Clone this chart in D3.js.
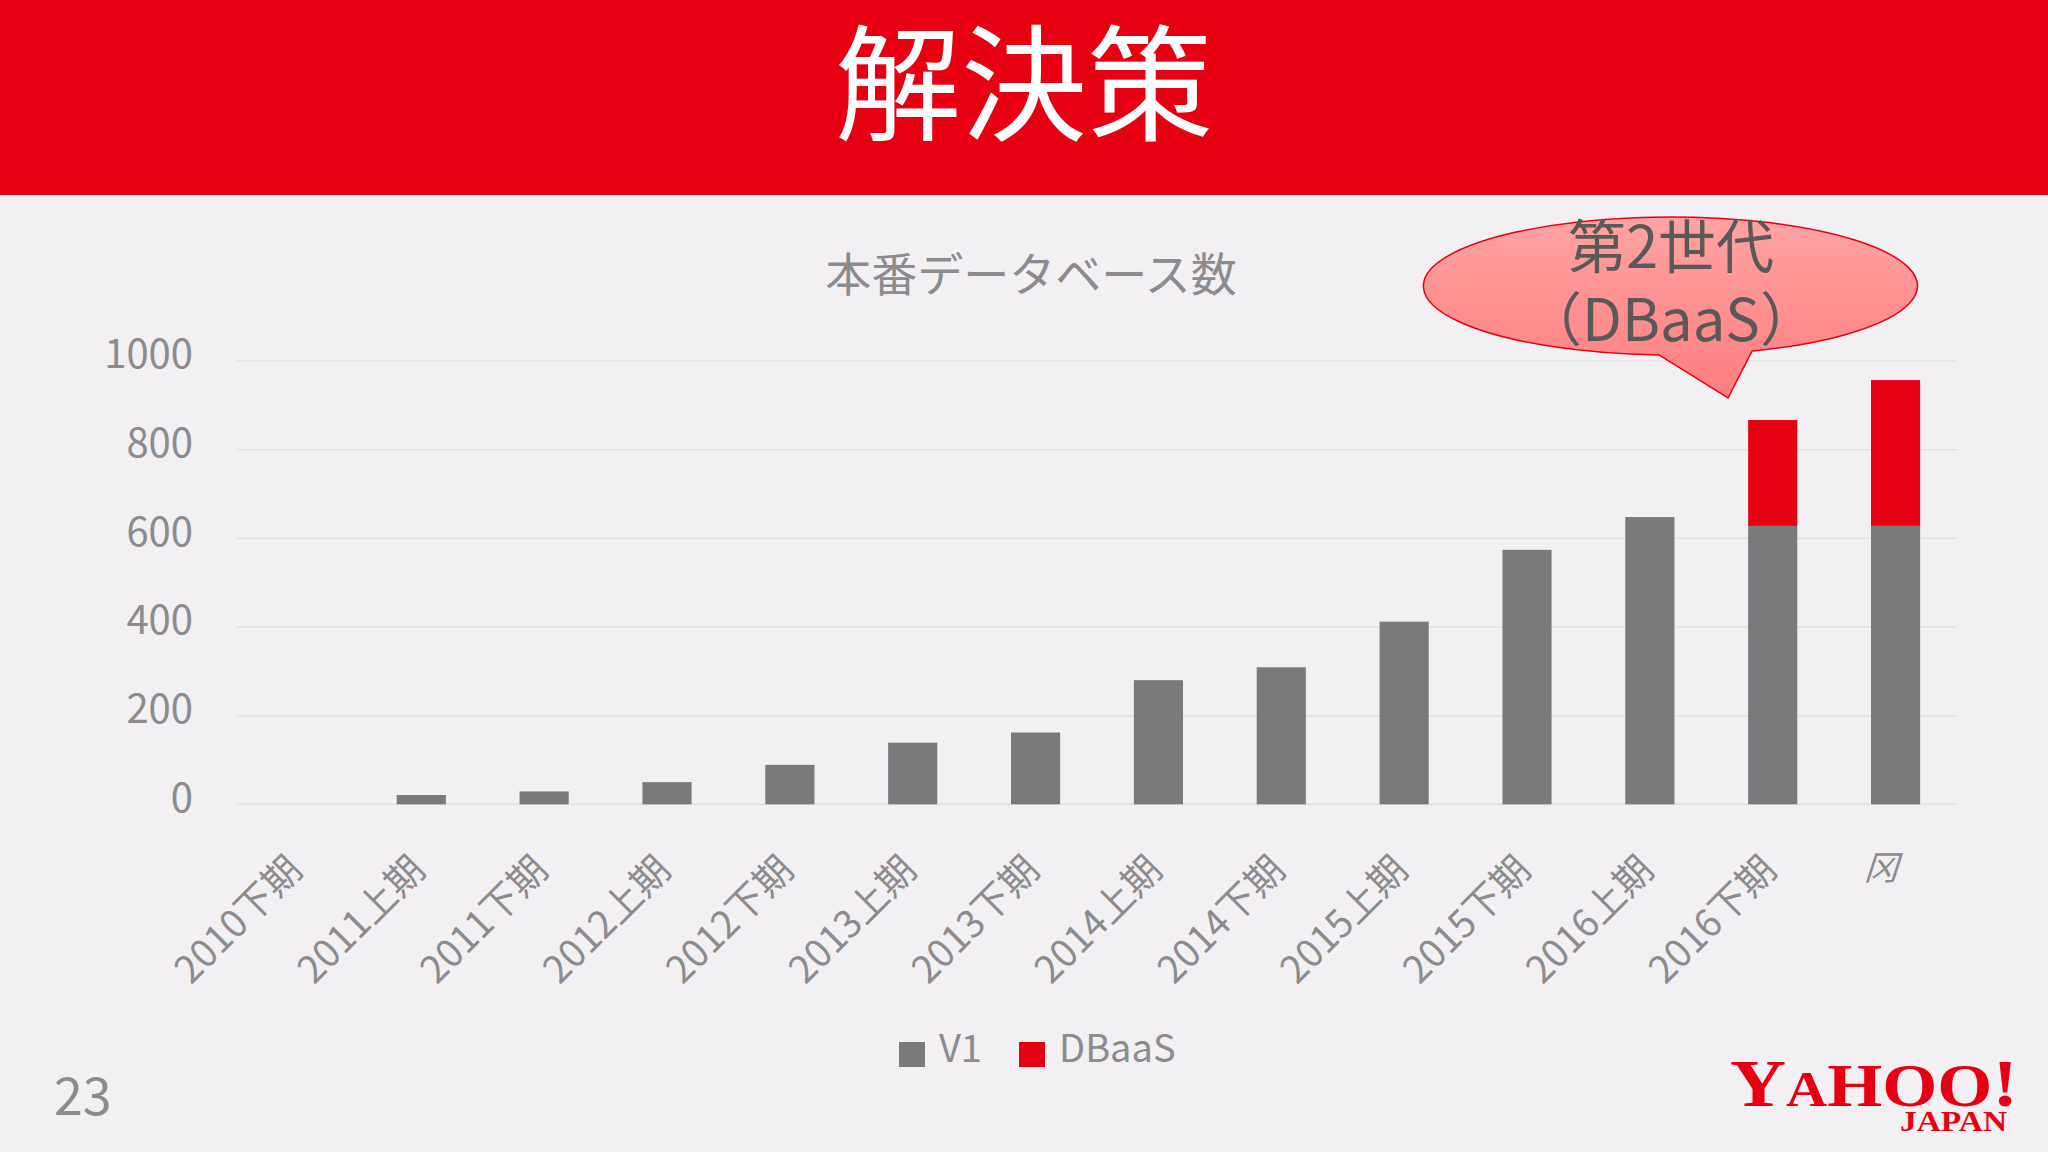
<!DOCTYPE html>
<html>
<head>
<meta charset="utf-8">
<script src="https://cdn.jsdelivr.net/npm/d3@7"></script>
<style>
  html, body { margin: 0; padding: 0; background: #F2F0F3; }
  svg { display: block; }
</style>
</head>
<body>
<script>
const categories = ['2010下期','2011上期','2011下期','2012上期','2012下期','2013上期','2013下期','2014上期','2014下期','2015上期','2015下期','2016上期','2016下期','冈'];
const v1Values = [0, 21, 29, 50, 89, 139, 162, 280, 309, 412, 574, 648, 628, 628];
const dbaasValues = [0, 0, 0, 0, 0, 0, 0, 0, 0, 0, 0, 0, 239, 329];
const seriesNames = ['V1', 'DBaaS'];
const yTicks = [0, 200, 400, 600, 800, 1000];

const W = 2048, H = 1152;
const FONT = '"Noto Sans CJK JP", "Noto Sans", sans-serif';
const GRAY = '#7B797C', RED = '#E60012', TEXT = '#8C8B8D';

const svg = d3.select('body').append('svg').attr('width', W).attr('height', H);
svg.append('rect').attr('width', W).attr('height', H).attr('fill', '#F2F0F3');

// header
svg.append('rect').attr('x', 0).attr('y', 0).attr('width', W).attr('height', 195).attr('fill', RED);
svg.append('text').attr('x', 1024).attr('y', 76).attr('text-anchor', 'middle')
  .attr('dominant-baseline', 'central').attr('font-family', FONT).attr('font-size', 126)
  .attr('fill', '#fff').text('解決策');

// chart title
svg.append('text').attr('x', 1031).attr('y', 271).attr('text-anchor', 'middle')
  .attr('dominant-baseline', 'central').attr('font-family', FONT).attr('font-size', 46)
  .attr('fill', TEXT).text('本番データベース数');

const x = d3.scaleBand().domain(categories).range([237, 1957]).paddingInner(0.6).paddingOuter(0.3);
const y = d3.scaleLinear().domain([0, 1000]).range([804.3, 361]);

// gridlines
svg.append('g').selectAll('line').data(yTicks).join('line')
  .attr('x1', 237).attr('x2', 1957)
  .attr('y1', d => y(d)).attr('y2', d => y(d))
  .attr('stroke', '#E2E0E3').attr('stroke-width', 1.5);

// y axis labels
const yAxis = d3.axisLeft(y).tickValues(yTicks).tickFormat(d3.format('d')).tickSize(0).tickPadding(0);
const gy = svg.append('g').attr('transform', 'translate(193,0)').call(yAxis);
gy.select('.domain').remove();
gy.selectAll('text').attr('font-family', FONT).attr('font-size', 40).attr('fill', TEXT)
  .attr('dy', '0.32em').attr('y', -6);

// stacked bars
const stackData = categories.map((c, i) => ({cat: c, V1: v1Values[i], DBaaS: dbaasValues[i]}));
const stacked = d3.stack().keys(seriesNames)(stackData);
const colors = {V1: GRAY, DBaaS: RED};
svg.append('g').selectAll('g').data(stacked).join('g')
  .attr('fill', d => colors[d.key])
  .selectAll('rect').data(d => d.filter(p => p[1] - p[0] > 0)).join('rect')
  .attr('x', d => x(d.data.cat))
  .attr('width', x.bandwidth())
  .attr('y', d => y(d[1]))
  .attr('height', d => y(d[0]) - y(d[1]));

// x axis labels
const xAxis = d3.axisBottom(x).tickSize(0).tickPadding(0);
const gx = svg.append('g').call(xAxis);
gx.select('.domain').remove();
gx.selectAll('.tick').attr('transform', d => `translate(${x(d) + x.bandwidth() / 2},0)`);
const last = categories.length - 1;
gx.selectAll('text')
  .attr('font-family', FONT).attr('fill', TEXT)
  .attr('dy', 0).attr('y', 0)
  .attr('transform', (d, i) => i === last ? 'translate(-15,880) skewX(-18)' : 'translate(6,872) rotate(-45)')
  .attr('font-size', (d, i) => i === last ? 34 : 38)
  .attr('text-anchor', (d, i) => i === last ? 'middle' : 'end');

// callout
const defs = svg.append('defs');
const grad = defs.append('linearGradient').attr('id', 'cg').attr('x1', 0).attr('y1', 0).attr('x2', 0).attr('y2', 1);
grad.append('stop').attr('offset', '0%').attr('stop-color', '#FFA3A3');
grad.append('stop').attr('offset', '100%').attr('stop-color', '#FF7E7E');
svg.append('path')
  .attr('d', 'M1752,351.1 A247,69 0 1 0 1659,354.9 L1728,398 Z')
  .attr('fill', 'url(#cg)').attr('stroke', RED).attr('stroke-width', 1.5);
const ct = svg.append('text').attr('text-anchor', 'middle').attr('dominant-baseline', 'central')
  .attr('font-family', FONT).attr('font-size', 58).attr('fill', '#595959');
ct.append('tspan').attr('x', 1671).attr('y', 243).text('第2世代');
ct.append('tspan').attr('x', 1671).attr('y', 316).text('（DBaaS）');

// legend
const legendX = [899, 1019];
const lg = svg.append('g').selectAll('g').data(seriesNames).join('g')
  .attr('transform', (d, i) => `translate(${legendX[i]},1042)`);
lg.append('rect').attr('width', 26).attr('height', 25).attr('fill', d => colors[d]);
lg.append('text').attr('x', 40).attr('y', 20).attr('font-family', FONT).attr('font-size', 38)
  .attr('fill', TEXT).text(d => d);

// page number
svg.append('text').attr('x', 54).attr('y', 1115).attr('font-family', FONT).attr('font-size', 52)
  .attr('fill', TEXT).text('23');

// logo
const logo = svg.append('text').attr('x', 1730).attr('y', 1106)
  .attr('font-family', '"Liberation Serif", serif').attr('font-weight', 'bold').attr('fill', RED)
  .attr('textLength', 288).attr('lengthAdjust', 'spacingAndGlyphs');
logo.append('tspan').attr('font-size', 68).text('Y');
logo.append('tspan').attr('font-size', 50).text('A');
logo.append('tspan').attr('font-size', 62).text('HOO');
logo.append('tspan').attr('font-size', 68).text('!');
svg.append('text').attr('x', 1900).attr('y', 1131)
  .attr('font-family', '"Liberation Serif", serif').attr('font-weight', 'bold').attr('fill', RED)
  .attr('font-size', 30).attr('textLength', 107).attr('lengthAdjust', 'spacingAndGlyphs').text('JAPAN');
</script>
</body>
</html>
